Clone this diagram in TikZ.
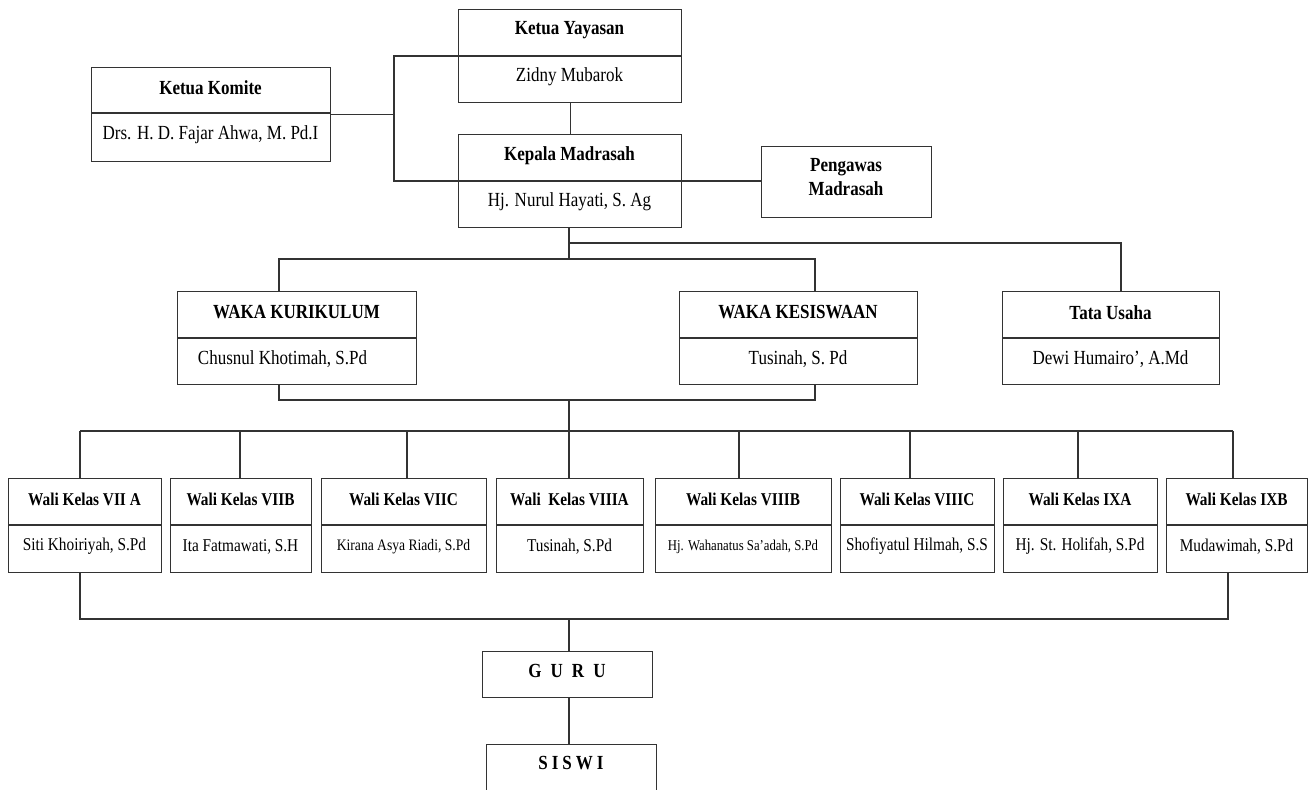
\documentclass[tikz,border=0pt]{standalone}
\usepackage{fontspec}
\setmainfont[FakeStretch=0.85]{Liberation Serif}
\usetikzlibrary{calc}

% two-part box: name, left, top, right, bottom, divider, title, person
\newcommand{\orgbox}[8]{%
  \node[frame, anchor=north west, minimum width={(#4-#2)*0.5pt},
        minimum height={(#5-#3)*0.5pt}] (#1) at (#2,#3) {};
  \draw[orgline] (#1.west |- 0,#6) -- (#1.east |- 0,#6);
  \node[title] (#1-t) at ({(#2+#4)/2},{(#3+#6)/2-2}) {#7};
  \node[person] (#1-p) at ({(#2+#4)/2},{(#6+#5)/2-2}) {#8};
}

\begin{document}
\begin{tikzpicture}[x=0.5pt, y=-0.5pt,
    orgline/.style={draw=black!80, line width=0.65pt},
    frame/.style={orgline, rectangle, inner sep=0pt},
    title/.style={font=\bfseries, inner sep=0pt},
    person/.style={inner sep=0pt}]
    \useasboundingbox (0,0) rectangle (1311,789);
    \clip (0,0) rectangle (1311,789);

    % Yayasan, Komite, Kepala
    \orgbox{yay}{458}{9}{681}{102}{56}{Ketua Yayasan}{Zidny Mubarok}
    \orgbox{kom}{91}{67}{330}{161}{113}{Ketua Komite}{Drs. H. D. Fajar Ahwa, M. Pd.I}
    \orgbox{kep}{458}{134}{681}{227}{181}{Kepala Madrasah}{Hj. Nurul Hayati, S. Ag}
    \node[frame, anchor=north west, minimum width=85pt, minimum height=35.5pt] (peng) at (761,146) {};
    \node[title, align=center] (peng-t) at (846,177) {Pengawas\\Madrasah};

    \coordinate (jt) at (394,56);
    \coordinate (jb) at (394,181);
    \draw[orgline] (yay.west |- jt) -- (jt) -- (jb) -- (kep.west |- jb);
    \draw[orgline] (kom.east) -- (kom.east -| jt);
    \draw[orgline] (yay.south) -- (kep.north);
    \draw[orgline] (kep.east |- jb) -- (peng.west |- jb);

    % Waka and Tata Usaha
    \orgbox{wk}{177}{291}{416}{384}{338}{WAKA KURIKULUM}{Chusnul Khotimah, S.Pd\hspace*{14pt}}
    \orgbox{ws}{679}{291}{917}{384}{338}{WAKA KESISWAAN}{Tusinah, S. Pd}
    \orgbox{tu}{1002}{291}{1219}{384}{338}{Tata Usaha}{Dewi Humairo’, A.Md}

    \coordinate (k1) at (569,243);
    \coordinate (k2) at (569,259);
    \coordinate (tuc) at (1121,243);
    \coordinate (wkc) at (279,259);
    \coordinate (wsc) at (815,259);
    \draw[orgline] (k2 |- kep.south) -- (k2);
    \draw[orgline] (k1) -- (tuc) -- (tuc |- tu.north);
    \draw[orgline] (wkc |- wk.north) -- (wkc) -- (wsc) -- (wsc |- ws.north);

    \coordinate (wkb) at (279,400);
    \coordinate (wsb) at (815,400);
    \coordinate (mb) at (569,400);
    \coordinate (rc) at (569,431);
    \draw[orgline] (wkb |- wk.south) -- (wkb) -- (wsb) -- (wsb |- ws.south);
    \draw[orgline] (mb) -- (rc);

    % Wali kelas
    \begin{scope}[title/.append style={font=\fontsize{9}{10}\selectfont\bfseries},
                  person/.append style={font=\fontsize{9}{10}\selectfont}]
    \foreach \n/\xl/\xr/\xc/\ttl/\who in {
        1/8/161/80/{Wali Kelas VII A}/{Siti Khoiriyah, S.Pd},
        2/170/311/240/{Wali Kelas VIIB}/{Ita Fatmawati, S.H},
        3/321/486/407/{Wali Kelas VIIC}/{\fontsize{8}{9}\selectfont Kirana Asya Riadi, S.Pd},
        4/496/643/569/{Wali\ \ Kelas VIIIA}/{Tusinah, S.Pd},
        5/655/831/739/{Wali Kelas VIIIB}/{\fontsize{7.5}{9}\selectfont Hj. Wahanatus Sa’adah, S.Pd},
        6/840/994/910/{Wali Kelas VIIIC}/{Shofiyatul Hilmah, S.S},
        7/1003/1157/1078/{Wali Kelas IXA}/{Hj. St. Holifah, S.Pd},
        8/1166/1307/1233/{Wali Kelas IXB}/{Mudawimah, S.Pd}}{
        \orgbox{w\n}{\xl}{478}{\xr}{572}{525}{\ttl}{\who}
        \coordinate (c\n) at (\xc,431);
        \draw[orgline] (c\n) -- (c\n |- w\n.north);
    }
    \end{scope}
    \draw[orgline] (c1) -- (c8);

    % Guru and siswi
    \coordinate (b1) at (80,619);
    \coordinate (b8) at (1228,619);
    \coordinate (bm) at (569,619);
    \draw[orgline] (b1 |- w1.south) -- (b1) -- (b8) -- (b8 |- w8.south);

    \node[frame, anchor=north west, minimum width=85pt, minimum height=23pt] (guru) at (482,651) {};
    \node[title] (guru-t) at (567,671) {\spaceskip=4.5pt G U R U};
    \node[frame, anchor=north west, minimum width=85pt, minimum height=23pt] (siswi) at (486,744) {};
    \node[title] (siswi-t) at (571,763) {\spaceskip=2pt S I S W I};
    \draw[orgline] (bm) -- (bm |- guru.north);
    \draw[orgline] (bm |- guru.south) -- (bm |- siswi.north);
\end{tikzpicture}
\end{document}
